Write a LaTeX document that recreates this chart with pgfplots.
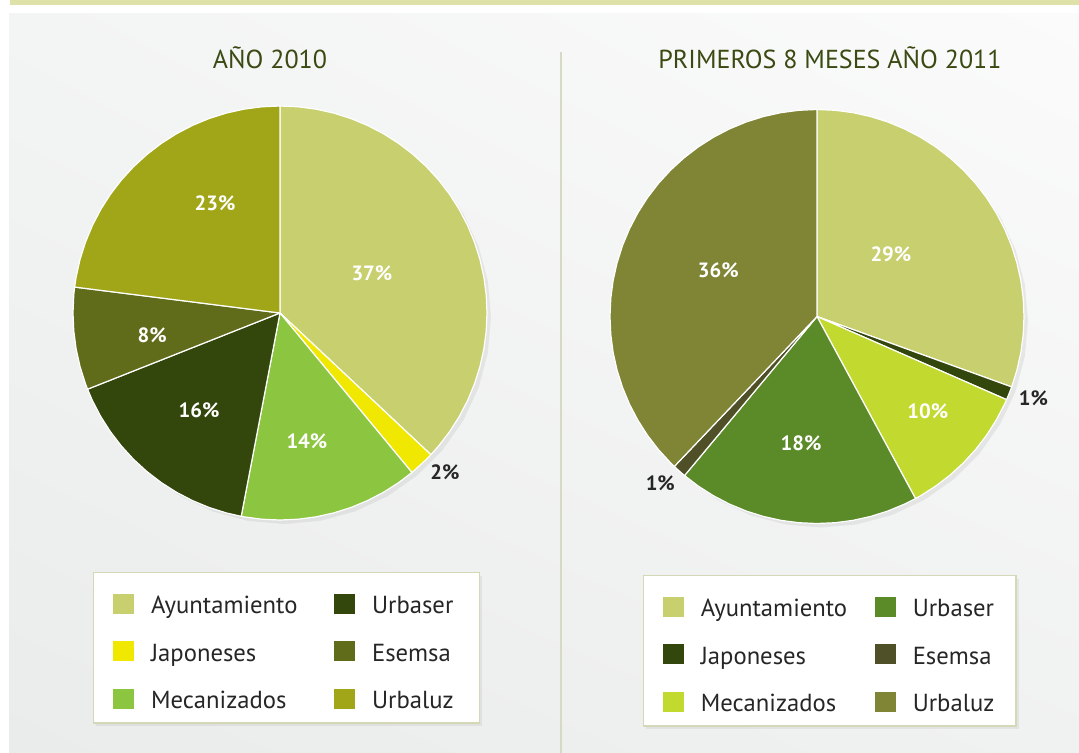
\documentclass[border=0pt]{standalone}
\usepackage{pgfplots}
\usepackage{pgfplotstable}
\pgfplotsset{compat=1.18}
\usepgfplotslibrary{polar}
\usetikzlibrary{shadows,shadings}
\usepackage{fontspec}
\setmainfont{PT Sans}
\definecolor{band}{RGB}{222,226,168}
\definecolor{sepc}{RGB}{214,218,196}
\definecolor{titlec}{RGB}{58,74,18}
\definecolor{legb}{RGB}{212,216,182}
\definecolor{txt}{RGB}{38,38,38}
\definecolor{pUL}{RGB}{243,244,244}
\definecolor{pUR}{RGB}{251,251,251}
\definecolor{pLL}{RGB}{234,235,235}
\definecolor{pLR}{RGB}{240,241,241}
% 2010
\definecolor{ayun}{RGB}{200,207,110}
\definecolor{japA}{RGB}{240,232,0}
\definecolor{mecA}{RGB}{140,197,63}
\definecolor{urbA}{RGB}{51,71,13}
\definecolor{esmA}{RGB}{97,108,26}
\definecolor{lzA}{RGB}{161,166,25}
% 2011
\definecolor{japB}{RGB}{51,71,13}
\definecolor{mecB}{RGB}{194,217,47}
\definecolor{urbB}{RGB}{91,138,40}
\definecolor{esmB}{RGB}{79,80,39}
\definecolor{lzB}{RGB}{127,133,53}
% full circle outline (angle, radius) for the pie shadow
\pgfplotstableread{
a r
0 1
10 1
20 1
30 1
40 1
50 1
60 1
70 1
80 1
90 1
100 1
110 1
120 1
130 1
140 1
150 1
160 1
170 1
180 1
190 1
200 1
210 1
220 1
230 1
240 1
250 1
260 1
270 1
280 1
290 1
300 1
310 1
320 1
330 1
340 1
350 1
360 1
}\circtab
\tikzset{
  lbl/.style={font=\bfseries\fontsize{15.5}{17}\selectfont, text=white},
  lblo/.style={font=\bfseries\fontsize{15.5}{17}\selectfont, text=txt},
}
\pgfplotsset{
  slice/.style={draw=white, line width=0.9pt, line join=round, data cs=polar, forget plot},
  shad/.style={draw=none, fill=white, data cs=polar, forget plot,
     drop shadow={opacity=0.13, shadow xshift=3pt, shadow yshift=-3pt}},
  legsq/.style={legend image code/.code={%
     \pgfsetfillcolor{#1}%
     \pgfpathrectangle{\pgfpointorigin}{\pgfpoint{15.75pt}{15pt}}\pgfusepath{fill}%
     \pgfpathmoveto{\pgfpointorigin}\pgfpathlineto{\pgfpoint{28.5pt}{0pt}}\pgfusepath{discard}}},
  pieaxis/.style={anchor=center, hide axis, scale only axis, width=310.5pt, height=310.5pt,
    xmin=-1, xmax=1, ymin=-1, ymax=1, clip=false,
    legend columns=2, legend cell align=left,
    legend style={draw=legb, line width=1.1pt, fill=white, anchor=north west,
      font=\fontsize{18.5}{20}\selectfont\color{txt},
      inner xsep=14.5pt, inner ysep=6pt, row sep=6.4pt, column sep=0pt,
      nodes={inner sep=0pt, text height=24.75pt, text depth=4.5pt},
      cells={anchor=base west},
      drop shadow={opacity=0.12, shadow xshift=2pt, shadow yshift=-2.5pt}},
  },
}
\begin{document}
\begin{tikzpicture}
\begin{scope}[x=0.75pt,y=-0.75pt]
\useasboundingbox (0,0) rectangle (1079,753);
\fill[white] (0,0) rectangle (1079,753);
\shade[upper left=pUL, upper right=pUR, lower left=pLL, lower right=pLR]
  (9,13) rectangle (1079,753);
\fill[band] (10,0) rectangle (1079,5);
\draw[sepc, line width=1.5pt] (561,52) -- (561,753);
\node[anchor=base, text=titlec, font=\fontsize{19.5}{22}\selectfont, inner sep=0pt] at (270,68) {AÑO 2010};
\node[anchor=base, text=titlec, font=\fontsize{19.5}{22}\selectfont, inner sep=0pt] at (830,68) {PRIMEROS 8 MESES AÑO 2011};
\end{scope}

% ---------- 2010 ----------
\begin{axis}[pieaxis, at={(210pt,-234.75pt)},
  legend style={at={(0.0483,-0.1256)},
   /tikz/column 2/.style={text width=137.25pt},
   /tikz/column 4/.style={text width=66pt}}]
\addplot[shad] table[x=a, y=r] {\circtab} -- cycle;
% Ayuntamiento 37%
\addplot[slice, fill=ayun] coordinates {(0,0) (90,1) (85,1) (80,1) (75,1) (70,1) (65,1) (60,1) (55,1) (50,1) (45,1) (40,1) (35,1) (30,1) (25,1) (20,1) (15,1) (10,1) (5,1) (0,1) (-5,1) (-10,1) (-15,1) (-20,1) (-25,1) (-30,1) (-35,1) (-40,1) (-43.2,1) (0,0)} -- cycle;
% Japoneses 2%
\addplot[slice, fill=japA] coordinates {(0,0) (-43.2,1) (-45,1) (-50,1) (-50.4,1) (0,0)} -- cycle;
% Mecanizados 14%
\addplot[slice, fill=mecA] coordinates {(0,0) (-50.4,1) (-55,1) (-60,1) (-65,1) (-70,1) (-75,1) (-80,1) (-85,1) (-90,1) (-95,1) (-100,1) (-100.8,1) (0,0)} -- cycle;
% Urbaser 16%
\addplot[slice, fill=urbA] coordinates {(0,0) (-100.8,1) (-105,1) (-110,1) (-115,1) (-120,1) (-125,1) (-130,1) (-135,1) (-140,1) (-145,1) (-150,1) (-155,1) (-158.4,1) (0,0)} -- cycle;
% Esemsa 8%
\addplot[slice, fill=esmA] coordinates {(0,0) (-158.4,1) (-160,1) (-165,1) (-170,1) (-175,1) (-180,1) (-185,1) (-187.2,1) (0,0)} -- cycle;
% Urbaluz 23%
\addplot[slice, fill=lzA] coordinates {(0,0) (-187.2,1) (-190,1) (-195,1) (-200,1) (-205,1) (-210,1) (-215,1) (-220,1) (-225,1) (-230,1) (-235,1) (-240,1) (-245,1) (-250,1) (-255,1) (-260,1) (-265,1) (-270,1) (0,0)} -- cycle;
\node[lbl] at (axis cs:0.444,0.193) {37\%};
\node[lbl] at (axis cs:-0.314,0.531) {23\%};
\node[lbl] at (axis cs:-0.618,-0.106) {8\%};
\node[lbl] at (axis cs:-0.391,-0.469) {16\%};
\node[lbl] at (axis cs:0.130,-0.618) {14\%};
\node[lblo] at (axis cs:0.797,-0.768) {2\%};
\addlegendimage{legsq=ayun}\addlegendentry{Ayuntamiento}
\addlegendimage{legsq=urbA}\addlegendentry{Urbaser}
\addlegendimage{legsq=japA}\addlegendentry{Japoneses}
\addlegendimage{legsq=esmA}\addlegendentry{Esemsa}
\addlegendimage{legsq=mecA}\addlegendentry{Mecanizados}
\addlegendimage{legsq=lzA}\addlegendentry{Urbaluz}
\end{axis}

% ---------- 2011 ----------
\begin{axis}[pieaxis, at={(612.75pt,-237.375pt)},
  legend style={at={(0.0790,-0.1244)},
   /tikz/column 2/.style={text width=130.5pt},
   /tikz/column 4/.style={text width=63pt}}]
\addplot[shad] table[x=a, y=r] {\circtab} -- cycle;
% Ayuntamiento 29
\addplot[slice, fill=ayun] coordinates {(0,0) (90,1) (85,1) (80,1) (75,1) (70,1) (65,1) (60,1) (55,1) (50,1) (45,1) (40,1) (35,1) (30,1) (25,1) (20,1) (15,1) (10,1) (5,1) (0,1) (-5,1) (-10,1) (-15,1) (-19.89,1) (0,0)} -- cycle;
% Japoneses 1
\addplot[slice, fill=japB] coordinates {(0,0) (-19.89,1) (-21.8,1) (-23.68,1) (0,0)} -- cycle;
% Mecanizados 10
\addplot[slice, fill=mecB] coordinates {(0,0) (-23.68,1) (-25,1) (-30,1) (-35,1) (-40,1) (-45,1) (-50,1) (-55,1) (-60,1) (-61.58,1) (0,0)} -- cycle;
% Urbaser 18
\addplot[slice, fill=urbB] coordinates {(0,0) (-61.58,1) (-65,1) (-70,1) (-75,1) (-80,1) (-85,1) (-90,1) (-95,1) (-100,1) (-105,1) (-110,1) (-115,1) (-120,1) (-125,1) (-129.79,1) (0,0)} -- cycle;
% Esemsa 1
\addplot[slice, fill=esmB] coordinates {(0,0) (-129.79,1) (-131.7,1) (-133.58,1) (0,0)} -- cycle;
% Urbaluz 36
\addplot[slice, fill=lzB] coordinates {(0,0) (-133.58,1) (-135,1) (-140,1) (-145,1) (-150,1) (-155,1) (-160,1) (-165,1) (-170,1) (-175,1) (-180,1) (-185,1) (-190,1) (-195,1) (-200,1) (-205,1) (-210,1) (-215,1) (-220,1) (-225,1) (-230,1) (-235,1) (-240,1) (-245,1) (-250,1) (-255,1) (-260,1) (-265,1) (-270,1) (0,0)} -- cycle;
\node[lbl] at (axis cs:0.357,0.301) {29\%};
\node[lbl] at (axis cs:-0.477,0.224) {36\%};
\node[lbl] at (axis cs:-0.077,-0.610) {18\%};
\node[lbl] at (axis cs:0.535,-0.460) {10\%};
\node[lblo] at (axis cs:1.046,-0.393) {1\%};
\node[lblo] at (axis cs:-0.757,-0.807) {1\%};
\addlegendimage{legsq=ayun}\addlegendentry{Ayuntamiento}
\addlegendimage{legsq=urbB}\addlegendentry{Urbaser}
\addlegendimage{legsq=japB}\addlegendentry{Japoneses}
\addlegendimage{legsq=esmB}\addlegendentry{Esemsa}
\addlegendimage{legsq=mecB}\addlegendentry{Mecanizados}
\addlegendimage{legsq=lzB}\addlegendentry{Urbaluz}
\end{axis}
\end{tikzpicture}
\end{document}
